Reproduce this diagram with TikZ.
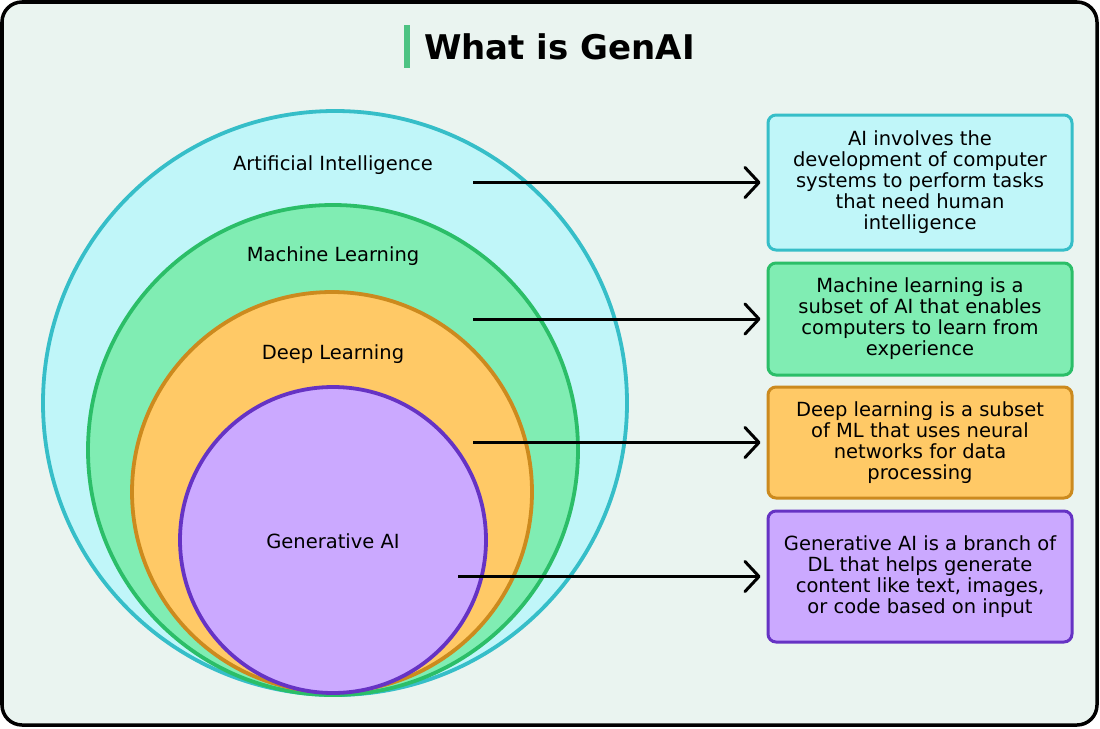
\documentclass[tikz,border=0pt]{standalone}
\usepackage{fontspec}
\setmainfont{DejaVu Sans}
\usetikzlibrary{arrows.meta}
\definecolor{bgc}{HTML}{EAF4F0}
\definecolor{aifill}{HTML}{C0F6F9}
\definecolor{aidraw}{HTML}{36BEC8}
\definecolor{mlfill}{HTML}{80EDB3}
\definecolor{mldraw}{HTML}{2BBE68}
\definecolor{dlfill}{HTML}{FFC966}
\definecolor{dldraw}{HTML}{CC8A1E}
\definecolor{gafill}{HTML}{CBA9FF}
\definecolor{gadraw}{HTML}{6633C4}
\definecolor{barc}{HTML}{4DC383}
\tikzset{
  ring/.style={circle, inner sep=0pt, line width=3.8pt},
  lbl/.style={font=\fontsize{19.5}{21}\selectfont, text=black},
  infobox/.style={rectangle, rounded corners=8pt, line width=3pt, minimum width=304pt,
    align=center, inner sep=0pt, font=\fontsize{19.5}{21}\selectfont, text=black},
  conn/.style={line width=3pt, -{Straight Barb[length=14pt,width=30pt,round]}, shorten >=6pt}
}
\begin{document}
\begin{tikzpicture}[x=1pt,y=-1pt]
\useasboundingbox (0,0) rectangle (1100,728);
\draw[fill=bgc, line width=3.5pt, rounded corners=20pt] (2,2) rectangle (1097,725);
% title
\fill[barc] (404,25) rectangle (410,68);
\node[anchor=west, font=\fontsize{34}{40}\selectfont\bfseries, inner sep=0pt] (title) at (424,47) {What is GenAI};
% circles
\node[ring, fill=aifill, draw=aidraw, minimum size=584pt] (ai) at (335,403) {};
\node[ring, fill=mlfill, draw=mldraw, minimum size=490pt] (ml) at (333,450) {};
\node[ring, fill=dlfill, draw=dldraw, minimum size=400pt] (dl) at (332,492) {};
\node[ring, fill=gafill, draw=gadraw, minimum size=306pt] (ga) at (333,540) {};
% circle labels
\node[lbl] (ailbl) at (333,165) {Artificial Intelligence};
\node[lbl] (mllbl) at (333,256) {Machine Learning};
\node[lbl] (dllbl) at (333,354) {Deep Learning};
\node[lbl] (galbl) at (333,541) {Generative AI};
% boxes
\node[infobox, fill=aifill, draw=aidraw, minimum height=135pt] (aibox) at (920,182.5)
  {AI involves the\\development of computer\\systems to perform tasks\\that need human\\intelligence};
\node[infobox, fill=mlfill, draw=mldraw, minimum height=112pt] (mlbox) at (920,319)
  {Machine learning is a\\subset of AI that enables\\computers to learn from\\experience};
\node[infobox, fill=dlfill, draw=dldraw, minimum height=111pt] (dlbox) at (920,442.5)
  {Deep learning is a subset\\of ML that uses neural\\networks for data\\processing};
\node[infobox, fill=gafill, draw=gadraw, minimum height=131pt] (gabox) at (920,576.5)
  {Generative AI is a branch of\\DL that helps generate\\content like text, images,\\or code based on input};
% connectors
\coordinate (s1) at (473,182.5);
\coordinate (s2) at (473,319);
\coordinate (s3) at (473,442.5);
\coordinate (s4) at (458,576.5);
\draw[conn] (s1) -- (aibox.west);
\draw[conn] (s2) -- (mlbox.west);
\draw[conn] (s3) -- (dlbox.west);
\draw[conn] (s4) -- (gabox.west);
\end{tikzpicture}
\end{document}
